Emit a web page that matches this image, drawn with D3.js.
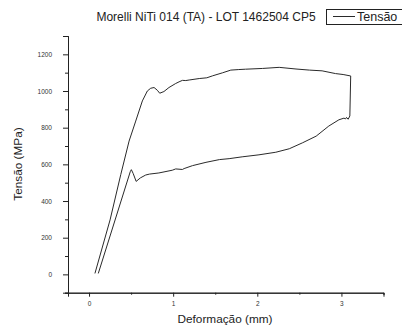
<!DOCTYPE html>
<html>
<head>
<meta charset="utf-8">
<script src="https://cdn.jsdelivr.net/npm/d3@7"></script>
<style>
html,body{margin:0;padding:0;background:#fff;overflow:hidden;}
svg{display:block;font-family:"Liberation Sans",Arial,sans-serif;}
</style>
</head>
<body>
<div id="chart"></div>
<script>
// Data
const deformacao = [0.07, 0.25, 0.377, 0.476, 0.555, 0.634, 0.693, 0.733, 0.773, 0.812, 0.84, 0.89, 0.95, 1.03, 1.07, 1.11, 1.15, 1.19, 1.31, 1.40, 1.47, 1.585, 1.685, 1.78, 1.86, 2.06, 2.26, 2.46, 2.62, 2.77, 2.93, 3.02, 3.11,
  3.10, 3.08, 3.06, 3.05, 3.03, 2.97, 2.85, 2.70, 2.54, 2.38, 2.22, 2.02, 1.82, 1.665, 1.55, 1.39, 1.23, 1.13, 1.11, 1.03, 0.99, 0.83, 0.72, 0.674, 0.61, 0.56, 0.525, 0.503, 0.49, 0.11];
const tensao = [5, 297, 544, 727, 836, 946, 1000, 1015, 1019, 1004, 988, 997, 1019, 1041, 1050, 1058, 1057, 1060, 1068, 1072, 1083, 1099, 1114, 1117, 1119, 1123, 1129, 1120, 1114, 1110, 1095, 1090, 1082,
  864, 846, 856, 848, 852, 843, 809, 754, 718, 685, 666, 652, 641, 631, 626, 611, 593, 577, 572, 575, 568, 553, 547, 542, 526, 507, 550, 571, 560, 5];
const xTicks = [0, 1, 2, 3];
const xMinorTicks = [-0.25, 0.5, 1.5, 2.5, 3.5];
const yTicks = [0, 200, 400, 600, 800, 1000, 1200];
const yMinorTicks = [-100, 100, 300, 500, 700, 900, 1100, 1300];
const title = "Morelli NiTi 014 (TA) - LOT 1462504 CP5";
const seriesName = "Tensão";
const xLabel = "Deformação (mm)";
const yLabel = "Tensão (MPa)";

const W = 402, H = 332;
const svg = d3.select("#chart").append("svg").attr("width", W).attr("height", H);

const x = d3.scaleLinear().domain([-0.25, 3.5]).range([68, 383.5]);
const y = d3.scaleLinear().domain([-100, 1300]).range([292.7, 36]);

const axisColor = "#222";
const labelColor = "#333";

// X axis
const gx = svg.append("g").attr("transform", `translate(0,${y(-100)})`);
gx.call(d3.axisBottom(x).tickValues(xTicks).tickSize(4).tickPadding(5).tickFormat(d3.format("d")));
const gxm = svg.append("g").attr("transform", `translate(0,${y(-100)})`);
gxm.call(d3.axisBottom(x).tickValues(xMinorTicks).tickSize(2).tickFormat(""));

// Y axis
const gy = svg.append("g").attr("transform", `translate(${x(-0.25)},0)`);
gy.call(d3.axisLeft(y).tickValues(yTicks).tickSize(5).tickPadding(11).tickFormat(d3.format("d")));
const gym = svg.append("g").attr("transform", `translate(${x(-0.25)},0)`);
gym.call(d3.axisLeft(y).tickValues(yMinorTicks).tickSize(3).tickFormat(""));

[gx, gxm, gy, gym].forEach(g => {
  g.select(".domain").attr("stroke", axisColor).attr("stroke-width", 1);
  g.selectAll(".tick line").attr("stroke", axisColor);
  g.selectAll(".tick text").attr("fill", labelColor).style("font-size", "6.5px")
    .style("font-family", "'Liberation Sans',Arial,sans-serif");
});

// Curve
const line = d3.line().x(d => x(d[0])).y(d => y(d[1]));
const pts = deformacao.map((d, i) => [d, tensao[i]]);
svg.append("path").datum(pts)
  .attr("d", line)
  .attr("fill", "none")
  .attr("stroke", "#2a2a2a")
  .attr("stroke-width", 1)
  .attr("stroke-linejoin", "round");

// Title
svg.append("text").attr("x", 206).attr("y", 21).attr("text-anchor", "middle")
  .attr("fill", "#222").style("font-size", "12px").text(title);

// Legend
svg.append("rect").attr("x", 326.5).attr("y", 9.5).attr("width", 90).attr("height", 15)
  .attr("fill", "#fff").attr("stroke", "#222").attr("stroke-width", 1);
svg.append("line").attr("x1", 333).attr("x2", 355).attr("y1", 16.5).attr("y2", 16.5)
  .attr("stroke", "#2a2a2a").attr("stroke-width", 1);
svg.append("text").attr("x", 357).attr("y", 21).attr("fill", "#222")
  .style("font-size", "12.5px").text(seriesName);

// Axis labels
svg.append("text").attr("x", 225).attr("y", 323).attr("text-anchor", "middle")
  .attr("fill", "#222").style("font-size", "11.8px").text(xLabel);
svg.append("text").attr("transform", "translate(22,164) rotate(-90)").attr("text-anchor", "middle")
  .attr("fill", "#222").style("font-size", "11.8px").text(yLabel);
</script>
</body>
</html>
